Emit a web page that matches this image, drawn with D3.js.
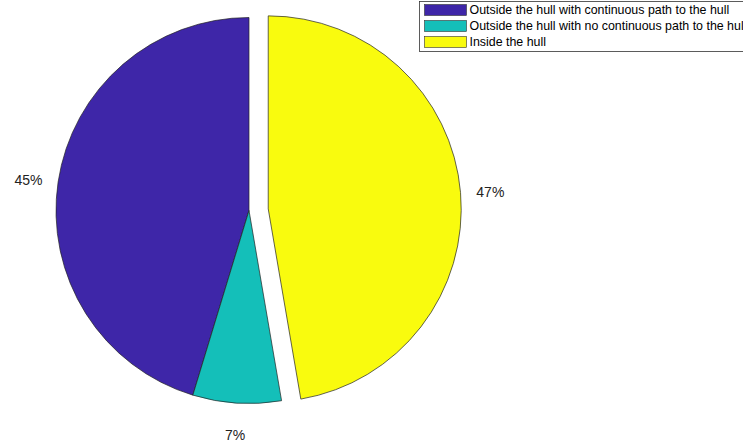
<!DOCTYPE html>
<html>
<head>
<meta charset="utf-8">
<script src="https://cdn.jsdelivr.net/npm/d3@7"></script>
<style>
  body { margin: 0; background: #fff; }
  text { font-family: "Liberation Sans", Arial, Helvetica, sans-serif; }
</style>
</head>
<body>
<div id="chart"></div>
<script>
// slice data
const categories = [
    "Outside the hull with continuous path to the hull",
    "Outside the hull with no continuous path to the hull",
    "Inside the hull"
];
const values = [45.3, 7.4, 47.3];
const explode = [0, 0, 1];
const colors = ["#3e26a8", "#14bfb9", "#f9fb0e"];

const W = 743, H = 444;
const cx = 249, cy = 210.5, R = 193;

const svg = d3.select("#chart").append("svg")
    .attr("width", W)
    .attr("height", H);

// matlab draws counterclockwise starting at the top
const pie = d3.pie().sort(null).startAngle(0).endAngle(-2 * Math.PI);
const arcs = pie(values);
const total = d3.sum(values);

const arc = d3.arc().innerRadius(0).outerRadius(R);

const g = svg.append("g").attr("transform", `translate(${cx},${cy})`);

arcs.forEach((d, i) => {
    const mid = (d.startAngle + d.endAngle) / 2;
    const off = explode[i] ? 0.1 * R : 0;
    const ox = Math.sin(mid) * off, oy = -Math.cos(mid) * off;

    g.append("path")
        .attr("d", arc(d))
        .attr("transform", `translate(${ox},${oy})`)
        .attr("fill", colors[i])
        .attr("stroke", "#222")
        .attr("stroke-width", 0.7);

    const lr = 1.155 * R;
    g.append("text")
        .attr("x", ox + Math.sin(mid) * lr)
        .attr("y", oy - Math.cos(mid) * lr + 2)
        .attr("text-anchor", "middle")
        .attr("dominant-baseline", "central")
        .attr("font-size", 14)
        .attr("fill", "#222")
        .text(Math.round(d.value / total * 100) + "%");
});

// legend
const legend = svg.append("g").attr("transform", "translate(419.5,1.5)");
legend.append("rect")
    .attr("width", 330).attr("height", 50)
    .attr("fill", "#fff")
    .attr("stroke", "#333").attr("stroke-width", 0.8);

categories.forEach((c, i) => {
    const y = 8.5 + i * 16;
    legend.append("rect")
        .attr("x", 5).attr("y", y - 5.5)
        .attr("width", 42).attr("height", 11)
        .attr("fill", colors[i])
        .attr("stroke", "#333").attr("stroke-width", 0.6);
    legend.append("text")
        .attr("x", 50).attr("y", y)
        .attr("dominant-baseline", "central")
        .attr("font-size", 12.4)
        .attr("fill", "#000")
        .text(c);
});
</script>
</body>
</html>
